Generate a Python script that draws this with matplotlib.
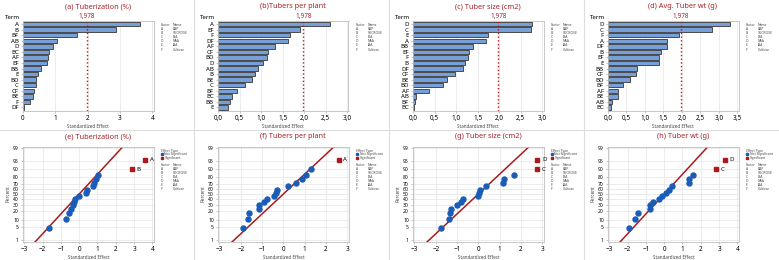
import matplotlib
matplotlib.use('Agg')
import matplotlib.pyplot as plt
from matplotlib.lines import Line2D
from matplotlib.ticker import FuncFormatter
from statistics import NormalDist

plt.rcParams['font.family'] = ['Noto Sans', 'DejaVu Sans']

W, H = 779, 260

factors = ['A', 'B', 'C', 'D', 'E', 'F']
factor_names = ['BAP', 'SUCROSE', 'IBA', 'NAA', 'IAA', 'Cultivar']

# standardized effects (signed), in Pareto order
terms_a = ['A', 'B', 'BF', 'AB', 'D', 'BC', 'AF', 'EF', 'BB', 'E', 'BD', 'C', 'CF', 'BE', 'F', 'DF']
eff_a = [3.61, 2.88, -1.67, 1.05, 0.92, 0.80, 0.76, -0.73, -0.56, -0.46, 0.41, 0.39, -0.33, -0.30, -0.21, -0.02]

terms_b = ['A', 'EF', 'F', 'DF', 'AF', 'CF', 'BD', 'D', 'AB', 'B', 'BE', 'C', 'BF', 'BC', 'BB', 'E']
eff_b = [2.60, -1.91, -1.68, -1.62, 1.32, -1.15, -1.14, 1.05, -0.92, 0.87, -0.78, 0.62, -0.45, -0.33, -0.28, 0.24]

terms_c = ['D', 'C', 'E', 'A', 'BB', 'EF', 'F', 'B', 'DF', 'CF', 'BE', 'BD', 'AF', 'AB', 'BF', 'BC']
eff_c = [2.77, 2.75, -1.73, 1.69, -1.39, -1.31, -1.27, 1.20, 1.15, -0.98, -0.79, -0.70, 0.37, 0.07, 0.05, -0.02]

terms_d = ['D', 'C', 'F', 'A', 'DF', 'B', 'EF', 'E', 'BB', 'CF', 'BD', 'BF', 'AF', 'BE', 'AB', 'BC']
eff_d = [3.30, 2.81, -1.92, -1.59, 1.59, -1.43, 1.38, 1.37, -0.79, -0.75, -0.60, 0.41, -0.28, 0.26, -0.11, 0.09]

pareto_titles = ['(a) Tuberization (%)', '(b)Tubers per plant', '(c) Tuber size (cm2)', '(d) Avg. Tuber wt (g)']
normal_titles = ['(e) Tuberization (%)', '(f) Tubers per plant', '(g) Tuber size (cm2)', '(h) Tuber wt (g)']
pareto_xmax = [4, 3, 3, 3.5]
pareto_step = [1, 0.5, 0.5, 0.5]
normal_xlim = [(-3, 4), (-3, 3), (-3, 3), (-3, 4)]
pct_ticks = [1, 5, 10, 20, 30, 40, 50, 60, 70, 80, 90, 95, 99]
crit = 1.978

all_terms = [terms_a, terms_b, terms_c, terms_d]
all_eff = [eff_a, eff_b, eff_c, eff_d]

dark_red = '#a8232b'
bar_blue = '#78a0d8'
dot_blue = '#1a5cb8'
sig_red = '#b01818'
grid_c = '#e4e4e4'

nd = NormalDist()


def box(x0, y0, x1, y1):
    return [x0 / W, 1 - y1 / H, (x1 - x0) / W, (y1 - y0) / H]


def fx(x):
    return x / W


def fy(y):
    return 1 - y / H


def style_ax(ax):
    for s in ax.spines.values():
        s.set_color('#bfbfbf')
        s.set_linewidth(0.6)
    ax.tick_params(length=1.5, width=0.4, color='#999999', pad=1.5, labelsize=4.6)
    ax.set_axisbelow(True)


def factor_table(off, y0):
    fig.text(fx(off + 161), fy(y0), 'Factor', fontsize=2.4, color='#444444', va='center')
    fig.text(fx(off + 173), fy(y0), 'Name', fontsize=2.4, color='#444444', va='center')
    for i, (f, n) in enumerate(zip(factors, factor_names)):
        y = y0 + 4.1 * (i + 1)
        fig.text(fx(off + 161), fy(y), f, fontsize=2.4, color='#444444', va='center')
        fig.text(fx(off + 173), fy(y), n, fontsize=2.4, color='#444444', va='center')


comma = FuncFormatter(lambda v, p: f'{v:.1f}'.replace('.', ','))

fig = plt.figure(figsize=(W / 100, H / 100), dpi=100)

for k in range(4):
    off = 195 * k
    terms = all_terms[k]
    eff = all_eff[k]
    n = len(terms)

    # ---- Pareto chart ----
    ax = fig.add_axes(box(off + 23, 21, off + 153.5, 110.5))
    style_ax(ax)
    y = list(range(n))
    ax.barh(y, [abs(e) for e in eff], height=0.8, color=bar_blue,
            edgecolor='#4a4a4a', linewidth=0.7)
    ax.set_yticks(y)
    ax.set_yticklabels(terms, fontsize=4.4)
    ax.set_ylim(n - 0.45, -0.55)
    xmax = pareto_xmax[k]
    ax.set_xlim(0, xmax * 1.01)
    step = pareto_step[k]
    ticks = [i * step for i in range(int(round(xmax / step)) + 1)]
    ax.set_xticks(ticks)
    if step < 1:
        ax.xaxis.set_major_formatter(comma)
    ax.grid(axis='x', color=grid_c, lw=0.5)
    ax.axvline(crit, color='#cc1111', ls=':', lw=1.0)
    ax.text(crit, 1.01, '1,978', color=dark_red, fontsize=4.6,
            ha='center', va='bottom', transform=ax.get_xaxis_transform())
    ax.set_xlabel('Standardized Effect', fontsize=3.3, color='#444444', labelpad=2)
    fig.text(fx(off + 5), fy(17.5), 'Term', fontsize=4.4, fontweight='semibold', va='center')
    fig.text(fx(off + 98), fy(6.5), pareto_titles[k], fontsize=5.3, fontweight='bold',
             color=dark_red, ha='center', va='center')
    factor_table(off, 25)

    # ---- Normal plot of effects ----
    ax2 = fig.add_axes(box(off + 23, 146.7, off + 154, 241.5))
    style_ax(ax2)
    srt = sorted(eff)
    pct = [(i + 1 - 0.3) / (n + 0.4) for i in range(n)]
    z = [nd.inv_cdf(p) for p in pct]
    sig = [abs(e) > crit for e in srt]
    xs = [e for e, s in zip(srt, sig) if not s]
    zs = [q for q, s in zip(z, sig) if not s]
    ax2.plot(xs, zs, 'o', color=dot_blue, ms=3.6, mec=dot_blue, zorder=3)
    for e, q, s in zip(srt, z, sig):
        if s:
            ax2.plot(e, q, 's', color=sig_red, ms=3.4, zorder=3)
            lab = terms[[abs(v) for v in eff].index(abs(e))]
            ax2.annotate(lab, (e, q), xytext=(3.5, 0), textcoords='offset points',
                         fontsize=4.4, va='center', ha='left', fontweight='semibold')
    lo, hi = normal_xlim[k]
    ax2.plot([-2.6, 2.6], [-2.6, 2.6], color='#a81c1c', lw=1.1, zorder=2)
    ax2.set_xlim(lo - 0.07, hi + 0.09)
    ax2.set_ylim(nd.inv_cdf(0.0085), nd.inv_cdf(0.9915))
    ax2.set_xticks(list(range(lo, hi + 1)))
    ax2.set_yticks([nd.inv_cdf(p / 100) for p in pct_ticks])
    ax2.set_yticklabels([str(p) for p in pct_ticks], fontsize=3.6)
    ax2.grid(color=grid_c, lw=0.5)
    ax2.set_xlabel('Standardized Effect', fontsize=3.3, color='#444444', labelpad=2)
    ax2.set_ylabel('Percent', fontsize=3.3, color='#444444', labelpad=2)
    fig.text(fx(off + 98), fy(136.5), normal_titles[k], fontsize=5.3, fontweight='bold',
             color=dark_red, ha='center', va='center')
    fig.text(fx(off + 161), fy(150.7), 'Effect Type', fontsize=2.4, color='#444444', va='center')
    fig.add_artist(Line2D([fx(off + 162)], [fy(154.3)], marker='s', ms=1.6,
                          color=dot_blue, transform=fig.transFigure))
    fig.text(fx(off + 164.5), fy(154.3), 'Not Significant', fontsize=2.4, color='#444444', va='center')
    fig.add_artist(Line2D([fx(off + 162)], [fy(158)], marker='s', ms=1.6,
                          color=sig_red, transform=fig.transFigure))
    fig.text(fx(off + 164.5), fy(158), 'Significant', fontsize=2.4, color='#444444', va='center')
    factor_table(off, 164.5)

# panel separators
for xs_ in [194, 389, 584]:
    fig.add_artist(Line2D([fx(xs_), fx(xs_)], [0, 1], color='#dcdcdc', lw=0.8,
                          transform=fig.transFigure))
fig.add_artist(Line2D([0, 1], [fy(129.5), fy(129.5)], color='#dcdcdc', lw=0.8,
                      transform=fig.transFigure))

plt.savefig('out.png', dpi=100)
